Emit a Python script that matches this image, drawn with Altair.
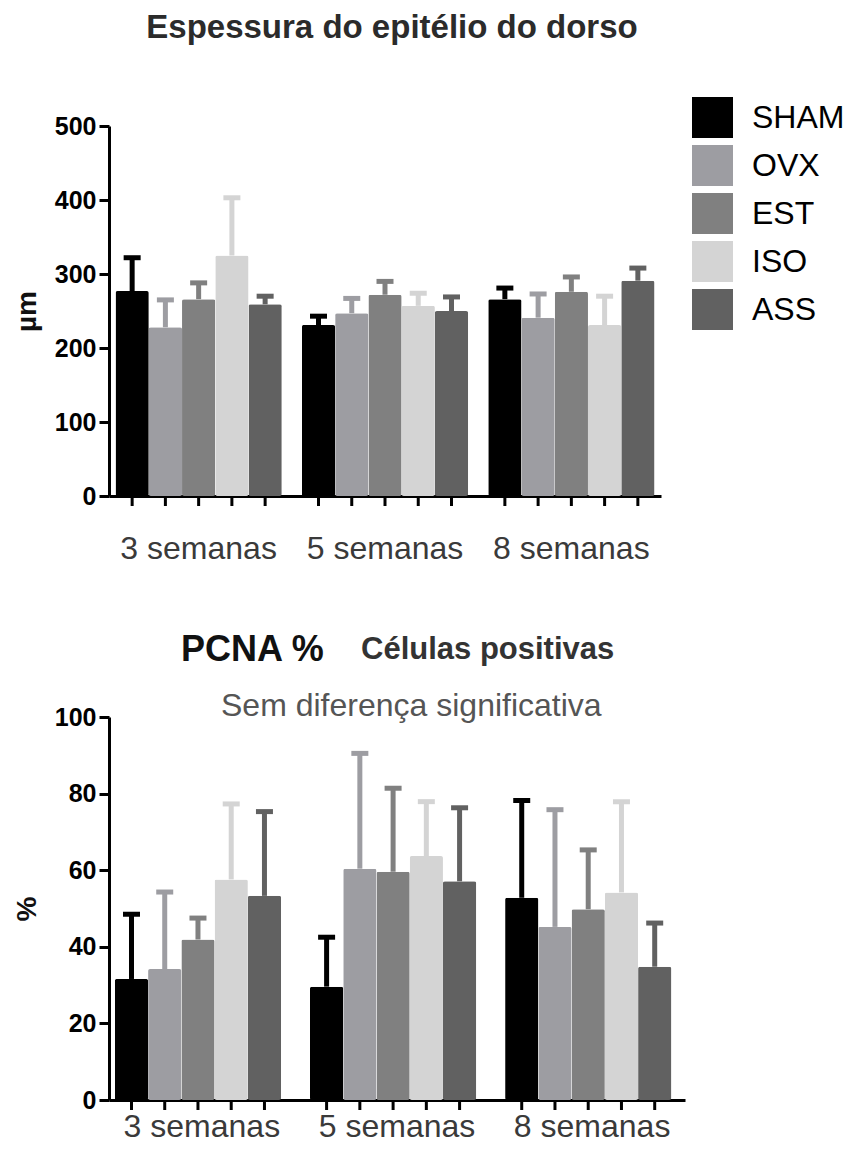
import altair as alt
import pandas as pd

FONT = "Liberation Sans"

groups = ["3 semanas", "5 semanas", "8 semanas"]
series = ["SHAM", "OVX", "EST", "ISO", "ASS"]
colors = ["#000000", "#9d9da2", "#808080", "#d4d4d4", "#616161"]

# Espessura do epitélio do dorso (µm): mean and upper error bound
esp_mean = {
    "SHAM": [277, 231, 266],
    "OVX": [228, 247, 241],
    "EST": [266, 272, 276],
    "ISO": [325, 257, 231],
    "ASS": [259, 250, 291],
}
esp_upper = {
    "SHAM": [322, 243, 281],
    "OVX": [265, 267, 273],
    "EST": [288, 290, 296],
    "ISO": [403, 274, 270],
    "ASS": [270, 269, 308],
}

# PCNA % células positivas: mean and upper error bound
pcna_mean = {
    "SHAM": [31.6, 29.6, 52.8],
    "OVX": [34.2, 60.4, 45.2],
    "EST": [41.9, 59.6, 49.8],
    "ISO": [57.6, 63.7, 54.2],
    "ASS": [53.3, 57.1, 34.8],
}
pcna_upper = {
    "SHAM": [48.5, 42.5, 78.2],
    "OVX": [54.3, 90.5, 75.8],
    "EST": [47.5, 81.4, 65.3],
    "ISO": [77.3, 77.9, 77.9],
    "ASS": [75.3, 76.3, 46.2],
}


def frame(means, uppers):
    rows = []
    for s in series:
        for g, m, u in zip(groups, means[s], uppers[s]):
            rows.append({"grupo": g, "serie": s, "media": m, "sup": u})
    return pd.DataFrame(rows)


def panel(df, ymax, ystep, ytitle, label_pad, label_base, title_pad, outer, legend):
    base = alt.Chart(df)
    x = alt.X(
        "grupo:N", sort=groups, title=None,
        scale=alt.Scale(paddingInner=0.108, paddingOuter=outer),
        axis=alt.Axis(
            labelAngle=0, ticks=False, tickSize=0, labelPadding=label_pad,
            labelFontSize=32, labelColor="#3a3a3a", labelFont=FONT,
            labelBaseline=label_base,
            domainWidth=3, domainColor="#000000",
        ),
    )
    xo = alt.XOffset("serie:N", sort=series,
                     scale=alt.Scale(paddingInner=0, paddingOuter=0))
    yaxis = alt.Axis(
        values=list(range(0, ymax + 1, ystep)), grid=False,
        domainWidth=3, domainColor="#000000",
        tickWidth=3, tickSize=10, tickColor="#000000",
        labelFontSize=25, labelFontWeight="bold", labelFont=FONT,
        labelColor="#000000", labelPadding=3,
        titleFontSize=28, titleFontWeight="bold", titleFont=FONT,
        titleColor="#111111", titlePadding=title_pad,
    )
    yscale = alt.Scale(domain=[0, ymax], nice=False)
    y = alt.Y("media:Q", scale=yscale, axis=yaxis, title=ytitle)
    stroke_col = alt.Stroke("serie:N", sort=series,
                            scale=alt.Scale(domain=series, range=colors), legend=None)
    fill_col = alt.Fill("serie:N", sort=series,
                        scale=alt.Scale(domain=series, range=colors), legend=legend)

    err = base.mark_rule(strokeWidth=5).encode(
        x=x, xOffset=xo, y=y, y2="sup:Q", stroke=stroke_col)
    cap = base.mark_tick(thickness=5, size=17, opacity=1, filled=False,
                         strokeWidth=0).encode(
        x=x, xOffset=xo, y=alt.Y("sup:Q", scale=yscale, axis=yaxis, title=ytitle),
        fill=alt.Fill("serie:N", sort=series,
                      scale=alt.Scale(domain=series, range=colors), legend=legend))
    bars = base.mark_bar(cornerRadius=2).encode(
        x=x, xOffset=xo, y=y, fill=fill_col)
    xticks = base.mark_rule(strokeWidth=3, color="#000000", y2Offset=10).encode(
        x=x, xOffset=xo,
        y=alt.Y(datum=0, scale=yscale, axis=yaxis, title=ytitle),
        y2=alt.Y2(datum=0))
    return err, cap, bars, xticks


# ---- top panel ----
top_df = frame(esp_mean, esp_upper)
top_legend = alt.Legend(
    title=None, orient="none", legendX=583, legendY=-29,
    symbolType="square", symbolSize=1681, symbolStrokeWidth=0,
    symbolOpacity=1,
    labelFontSize=32, labelFont=FONT, labelColor="#000000",
    labelOffset=19, rowPadding=7,
)
e1, c1, b1, t1 = panel(top_df, 500, 100, "µm", 37, "top", 13, 0.035, top_legend)
title_top = alt.Chart(pd.DataFrame({"t": ["Espessura do epitélio do dorso"]})).mark_text(
    font=FONT, fontSize=33, fontWeight="bold", color="#2b2b2b",
    align="center", baseline="alphabetic",
).encode(text="t:N", x=alt.value(283), y=alt.value(-88))
top = alt.layer(c1, e1, b1, t1, title_top).properties(width=552, height=370)

# ---- bottom panel ----
bot_df = frame(pcna_mean, pcna_upper)
e2, c2, b2, t2 = panel(bot_df, 100, 20, "%", 36, "alphabetic", 13, 0.03, None)
bot_titles = pd.DataFrame({
    "t": ["PCNA %", "Células positivas", "Sem diferença significativa"],
})
pcna_t = alt.Chart(bot_titles.iloc[[0]]).mark_text(
    font=FONT, fontSize=36, fontWeight="bold", color="#111111",
    align="left", baseline="alphabetic",
).encode(text="t:N", x=alt.value(72), y=alt.value(-56))
cel_t = alt.Chart(bot_titles.iloc[[1]]).mark_text(
    font=FONT, fontSize=31, fontWeight="bold", color="#333333",
    align="left", baseline="alphabetic",
).encode(text="t:N", x=alt.value(252), y=alt.value(-58))
sem_t = alt.Chart(bot_titles.iloc[[2]]).mark_text(
    font=FONT, fontSize=32, color="#555555",
    align="left", baseline="alphabetic",
).encode(text="t:N", x=alt.value(112), y=alt.value(-1))
bottom = alt.layer(c2, e2, b2, t2, pcna_t, cel_t, sem_t).properties(width=576, height=383)

chart = alt.vconcat(top, bottom, spacing=68).resolve_scale(
    fill="independent", stroke="independent", x="independent", y="independent"
).resolve_legend(fill="independent", stroke="independent").properties(
    padding={"left": 5, "right": 0, "top": 4, "bottom": 0}, background="#ffffff"
).configure_view(stroke=None)

chart.save("out.html", embed_options={"renderer": "svg", "actions": False})
